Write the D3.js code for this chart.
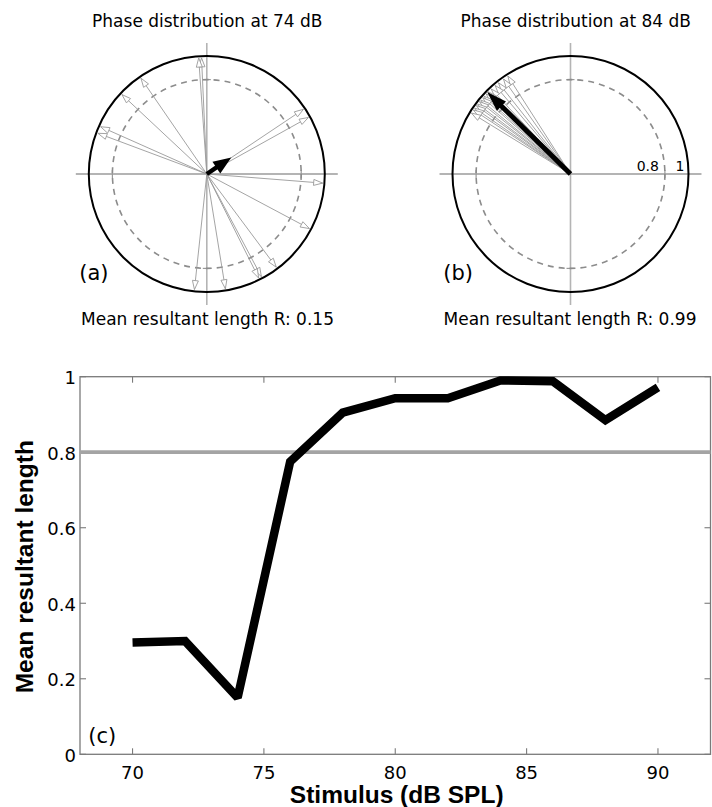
<!DOCTYPE html>
<html><head><meta charset="utf-8">
<script src="https://cdn.jsdelivr.net/npm/d3@7"></script>
<style>body{margin:0;background:#fff}svg{display:block}</style>
</head><body>
<svg id="c" width="712" height="807"></svg>
<script>
// ---------- data ----------
const stimulus = [70, 72, 74, 76, 78, 80, 82, 84, 86, 88, 90];
const meanLength = [0.296, 0.300, 0.150, 0.775, 0.905, 0.943, 0.943, 0.990, 0.988, 0.885, 0.972];
const threshold = 0.8;
const xTicks = [70, 75, 80, 85, 90];
const yTicks = [0, 0.2, 0.4, 0.6, 0.8, 1];
const yTickLabels = ["0", "0.2", "0.4", "0.6", "0.8", "1"];

// phase angles (degrees, counter-clockwise from +x) of individual vectors
const phasesA = [92.6, 94.0, 124.5, 136.9, 156.0, 159.5, 33.8, 29.1, -4.5, -28.0, -53.3, -62.0, -63.5, -80.8, -96.1];
const phasesB = [122.6, 125.2, 128.3, 130.4, 133.0, 135.0, 136.5, 138.0, 139.0, 140.5, 141.5, 143.0, 144.0, 145.5, 146.6, 148.4];
const panelLevels = [74, 84];
const panelLetters = ["(a)", "(b)"];
const meanAngles = [33.8, 135.5];
const meanArrowLengths = [0.25, 0.99];
const meanR = ["0.15", "0.99"];
const ringLabels = ["0.8", "1"];

// ---------- drawing ----------
const svg = d3.select("#c");
const FONT = "DejaVu Sans";

function polarPanel(cx, cy, phases, idx) {
  const g = svg.append("g").attr("transform", `translate(${cx},${cy})`);
  const r = d3.scaleLinear().domain([0, 1]).range([0, 118]);
  const px = (a, v) => Math.cos(a * Math.PI / 180) * r(v);
  const py = (a, v) => -Math.sin(a * Math.PI / 180) * r(v);

  // axes cross
  [0, 90].forEach(a => {
    g.append("line")
      .attr("x1", px(a, 1.11)).attr("y1", py(a, 1.11))
      .attr("x2", px(a + 180, 1.11)).attr("y2", py(a + 180, 1.11))
      .attr("stroke", "#b4b4b4").attr("stroke-width", a === 0 ? 2 : 1.6);
  });
  // small ticks at 0.8 on axes
  [0, 90, 180, 270].forEach(a => {
    const x0 = px(a, 0.8), y0 = py(a, 0.8);
    const tx = px(a + 90, 1) / r(1) * 4, ty = py(a + 90, 1) / r(1) * 4;
    g.append("line").attr("x1", x0 - tx).attr("y1", y0 - ty).attr("x2", x0 + tx).attr("y2", y0 + ty)
      .attr("stroke", "#999").attr("stroke-width", 1.2);
  });
  // dashed ring 0.8
  g.append("circle").attr("r", r(0.8)).attr("fill", "none")
    .attr("stroke", "#8c8c8c").attr("stroke-width", 1.6).attr("stroke-dasharray", "6,5");
  // outer ring
  g.append("circle").attr("r", r(1)).attr("fill", "none")
    .attr("stroke", "#000").attr("stroke-width", 2);

  // individual vectors
  phases.forEach(a => {
    const ex = px(a, 0.985), ey = py(a, 0.985);
    g.append("line").attr("x1", 0).attr("y1", 0).attr("x2", ex).attr("y2", ey)
      .attr("stroke", "#9a9a9a").attr("stroke-width", 0.9);
    const hl = 9, hw = 3;
    const ux = Math.cos(a * Math.PI / 180), uy = -Math.sin(a * Math.PI / 180);
    const bx = ex - ux * hl, by = ey - uy * hl;
    const nx = -uy, ny = ux;
    g.append("path")
      .attr("d", `M${ex},${ey}L${bx + nx * hw},${by + ny * hw}L${bx - nx * hw},${by - ny * hw}Z`)
      .attr("fill", "#fff").attr("stroke", "#9a9a9a").attr("stroke-width", 0.9);
  });

  // mean arrow
  const ma = meanAngles[idx], ml = meanArrowLengths[idx];
  const ex = px(ma, ml), ey = py(ma, ml);
  const ux = Math.cos(ma * Math.PI / 180), uy = -Math.sin(ma * Math.PI / 180);
  const nx = -uy, ny = ux;
  const hl = idx === 0 ? 18 : 20, hw = idx === 0 ? 7 : 6.5;
  const bx = ex - ux * hl, by = ey - uy * hl;
  g.append("line").attr("x1", 0).attr("y1", 0).attr("x2", bx + ux * 2).attr("y2", by + uy * 2)
    .attr("stroke", "#000").attr("stroke-width", idx === 0 ? 4.5 : 5);
  g.append("path")
    .attr("d", `M${ex},${ey}L${bx + nx * hw},${by + ny * hw}L${bx - nx * hw},${by - ny * hw}Z`)
    .attr("fill", "#000");

  return { g, r };
}

const pa = polarPanel(206.8, 174, phasesA, 0);
const pb = polarPanel(570.5, 174, phasesB, 1);

// ring labels on panel b
pb.g.append("text").attr("x", pb.r(0.8) - 6).attr("y", -3.5).attr("text-anchor", "end")
  .attr("font-family", FONT).attr("font-size", 14).text(ringLabels[0]);
pb.g.append("text").attr("x", pb.r(1) - 4).attr("y", -3.5).attr("text-anchor", "end")
  .attr("font-family", FONT).attr("font-size", 14).text(ringLabels[1]);

// titles & captions
[[207.3, 0], [575.8, 1]].forEach(([x, i]) => {
  svg.append("text").attr("x", x).attr("y", 27).attr("text-anchor", "middle")
    .attr("font-family", FONT).attr("font-size", 17)
    .text(`Phase distribution at ${panelLevels[i]} dB`);
});
[[207.5, 0], [570, 1]].forEach(([x, i]) => {
  svg.append("text").attr("x", x).attr("y", 325).attr("text-anchor", "middle")
    .attr("font-family", FONT).attr("font-size", 17)
    .text(`Mean resultant length R: ${meanR[i]}`);
});
[[79.3, 0], [443.3, 1]].forEach(([x, i]) => {
  svg.append("text").attr("x", x).attr("y", 280).attr("font-family", FONT).attr("font-size", 21)
    .text(panelLetters[i]);
});

// ---------- line chart ----------
const L = 80, R = 710.5, T = 376.7, B = 754.3;
const x = d3.scaleLinear().domain([68, 92]).range([L, R]);
const y = d3.scaleLinear().domain([0, 1]).range([B, T]);
const axisColor = "#7a7a7a";

svg.append("rect").attr("x", L).attr("y", T).attr("width", R - L).attr("height", B - T)
  .attr("fill", "none").attr("stroke", axisColor).attr("stroke-width", 1.3);

const tickLen = 6;
const gx = svg.append("g");
xTicks.forEach(v => {
  gx.append("line").attr("x1", x(v)).attr("x2", x(v)).attr("y1", B).attr("y2", B - tickLen)
    .attr("stroke", axisColor).attr("stroke-width", 1.1);
  gx.append("line").attr("x1", x(v)).attr("x2", x(v)).attr("y1", T).attr("y2", T + tickLen)
    .attr("stroke", axisColor).attr("stroke-width", 1.1);
  gx.append("text").attr("x", x(v)).attr("y", 779).attr("text-anchor", "middle")
    .attr("font-family", FONT).attr("font-size", 18).text(v);
});
yTicks.forEach((v, i) => {
  gx.append("line").attr("x1", L).attr("x2", L + tickLen).attr("y1", y(v)).attr("y2", y(v))
    .attr("stroke", axisColor).attr("stroke-width", 1.1);
  gx.append("line").attr("x1", R).attr("x2", R - tickLen).attr("y1", y(v)).attr("y2", y(v))
    .attr("stroke", axisColor).attr("stroke-width", 1.1);
  gx.append("text").attr("x", 76).attr("y", y(v) + 7.5).attr("text-anchor", "end")
    .attr("font-family", FONT).attr("font-size", 18).text(yTickLabels[i]);
});

// threshold line
svg.append("line").attr("x1", L).attr("x2", R).attr("y1", y(threshold)).attr("y2", y(threshold))
  .attr("stroke", "#a4a4a4").attr("stroke-width", 3.8);

// data line
const line = d3.line().x((d, i) => x(stimulus[i])).y(d => y(d));
svg.append("path").datum(meanLength).attr("d", line)
  .attr("fill", "none").attr("stroke", "#000").attr("stroke-width", 8.5)
  .attr("stroke-linejoin", "miter").attr("stroke-miterlimit", 2).attr("stroke-linecap", "butt");

svg.append("text").attr("x", 88.3).attr("y", 743).attr("font-family", FONT).attr("font-size", 21).text("(c)");

// axis labels
svg.append("text").attr("x", 396.7).attr("y", 803).attr("text-anchor", "middle")
  .attr("font-family", "Liberation Sans").attr("font-weight", "bold").attr("font-size", 24.5)
  .text("Stimulus (dB SPL)");
svg.append("text").attr("transform", "translate(33,566.7) rotate(-90)").attr("text-anchor", "middle")
  .attr("font-family", "Liberation Sans").attr("font-weight", "bold").attr("font-size", 24.5)
  .text("Mean resultant length");
</script>
</body></html>
